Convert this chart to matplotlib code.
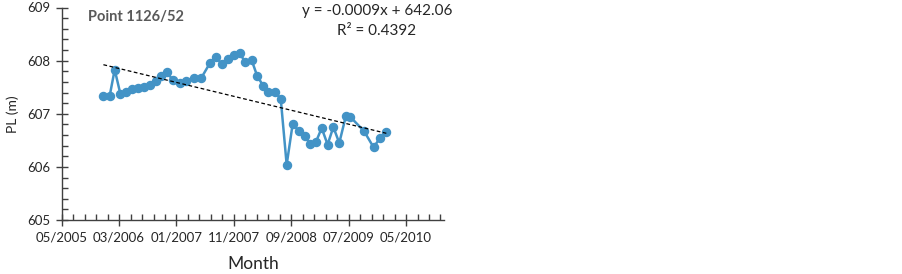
import numpy as np
import pandas as pd
import matplotlib.pyplot as plt
from matplotlib.ticker import MultipleLocator, FixedLocator, FuncFormatter

plt.rcParams['font.family'] = ['Lato', 'DejaVu Sans']

# Piezometric level readings, point 1126/52
dates = pd.to_datetime([
    "2006-01-01", "2006-02-03", "2006-03-01", "2006-03-31", "2006-05-01",
    "2006-06-01", "2006-07-03", "2006-07-31", "2006-08-31", "2006-10-01",
    "2006-10-31", "2006-11-28", "2007-01-01", "2007-02-03", "2007-03-10",
    "2007-04-18", "2007-05-27", "2007-07-13", "2007-08-12", "2007-09-12",
    "2007-10-15", "2007-11-15", "2007-12-15", "2008-01-12", "2008-02-15",
    "2008-03-14", "2008-04-16", "2008-05-13", "2008-06-16", "2008-07-16",
    "2008-08-16", "2008-09-16", "2008-10-19", "2008-11-19", "2008-12-16",
    "2009-01-16", "2009-02-15", "2009-03-18", "2009-04-17", "2009-05-18",
    "2009-06-21", "2009-07-15", "2009-09-25", "2009-11-13", "2009-12-19",
    "2010-01-19",
])
levels = [
    607.34, 607.34, 607.83, 607.37, 607.41, 607.46, 607.49, 607.51, 607.55, 607.62,
    607.71, 607.78, 607.63, 607.57, 607.62, 607.67, 607.67, 607.96, 608.06, 607.94,
    608.03, 608.11, 608.14, 607.97, 608.01, 607.72, 607.52, 607.41, 607.41, 607.28,
    606.04, 606.80, 606.68, 606.58, 606.43, 606.47, 606.73, 606.42, 606.75, 606.45,
    606.95, 606.94, 606.67, 606.37, 606.55, 606.65,
]
equation = "y = -0.0009x + 642.06"
r2_text = "R² = 0.4392"

# x axis in Excel serial days
excel_epoch = pd.Timestamp("1899-12-30")
x = np.array([(d - excel_epoch).days for d in dates], dtype=float)
y = np.array(levels)

fig = plt.figure(figsize=(9.03, 2.74), dpi=100)
ax = fig.add_axes([61.7 / 903, 1 - 220 / 274, (444.3 - 61.7) / 903, (220 - 7.5) / 274])

blue = '#4393c6'
ax.plot(x, y, color=blue, lw=1.8, marker='o', ms=5.8, mfc=blue, mec=blue, zorder=3)

# linear trend
k, b = np.polyfit(x, y, 1)
xt = np.array([x.min(), x.max()])
ax.plot(xt, k * xt + b, color='black', lw=0.9, ls=(0, (3, 2)), zorder=4)

ax.set_xlim(38500, 40500)
ax.set_ylim(605, 609)
ax.xaxis.set_major_locator(FixedLocator(np.arange(38500, 40501, 300)))
ax.xaxis.set_minor_locator(FixedLocator(np.arange(38500, 40501, 60)))
ax.xaxis.set_major_formatter(FuncFormatter(
    lambda v, p: (excel_epoch + pd.Timedelta(days=v)).strftime("%m/%Y")))
ax.yaxis.set_major_locator(MultipleLocator(1))
ax.yaxis.set_minor_locator(MultipleLocator(0.2))
ax.yaxis.set_major_formatter(FuncFormatter(lambda v, p: f"{v:.0f}"))

for s in ['top', 'right']:
    ax.spines[s].set_visible(False)
for s in ['left', 'bottom']:
    ax.spines[s].set_color('#404040')
    ax.spines[s].set_linewidth(1.0)

ax.tick_params(which='major', direction='inout', length=8, width=1.0,
               color='#404040', labelsize=9.5, labelcolor='#262626', pad=4)
ax.tick_params(which='minor', direction='in', length=4, width=1.0, color='#404040')

ax.set_xlabel("Month", fontsize=12.5, color='#262626', labelpad=9)
ax.set_ylabel("PL (m)", fontsize=10, color='#262626', labelpad=6)

fig.text(88 / 903, 1 - 17 / 274, "Point 1126/52", fontsize=10.5, fontweight='bold',
         color='#595959', va='center', ha='left')
fig.text(377 / 903, 1 - 11 / 274, equation, fontsize=11, color='#262626',
         ha='center', va='center')
fig.text(377 / 903, 1 - 31 / 274, r2_text, fontsize=11, color='#262626',
         ha='center', va='center')

fig.savefig("out.png", dpi=100)
